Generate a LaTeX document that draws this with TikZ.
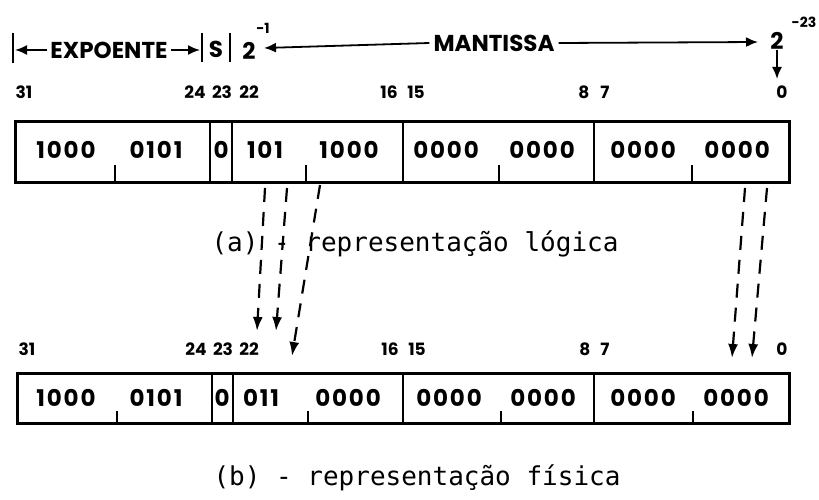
\documentclass[tikz,border=0pt]{standalone}
\usepackage{fontspec}
\setmainfont{Poppins}
\newfontfamily\bitfont[LetterSpace=8]{Poppins}
\newfontfamily\capfont{DejaVu Sans Mono}
\usetikzlibrary{arrows.meta}

\begin{document}
\begin{tikzpicture}[x=1pt,y=-1pt,
  frame/.style={draw, line width=3pt, inner sep=0pt},
  divider/.style={line width=1.8pt},
  tick/.style={line width=1.6pt},
  bar/.style={line width=2.2pt},
  bits/.style={inner sep=0pt, font=\bitfont\bfseries\fontsize{23}{23}\selectfont},
  bitno/.style={inner sep=0pt, font=\bfseries\fontsize{17}{17}\selectfont},
  hdr/.style={inner sep=0pt, font=\bfseries\fontsize{23}{23}\selectfont},
  powtext/.style={inner sep=0pt, font=\bfseries\fontsize{14}{14}\selectfont},
  captext/.style={inner sep=0pt, font=\capfont\fontsize{26}{26}\selectfont},
  harrow/.style={line width=1.8pt, -{Latex[length=12pt,width=10pt]}},
  darrow/.style={line width=2.2pt, dash pattern=on 14pt off 10pt,
                 -{Latex[length=14pt,width=10pt]}}]
\useasboundingbox (0,0) rectangle (819,500);

% ---------- header: field widths and weights ----------
\draw[bar] (13,33) -- (13,63);
\draw[bar] (202,33) -- (202,62);
\draw[bar] (230,33) -- (230,62);
\coordinate (expL) at (15,50);
\coordinate (expR) at (200,50);
\node[hdr] (expo) at (109,50) {EXPOENTE};
\draw[harrow] ([xshift=-3pt]expo.west) -- (expL);
\draw[harrow] ([xshift=3pt]expo.east) -- (expR);
\node[hdr] (sign) at (216,49) {S};
\node[hdr] (twoL) at (249,51) {2};
\node[powtext] (expoL) at (263,28) {-1};

\node[hdr] (mant) at (494,43) {MANTISSA};
\coordinate (mantL) at (264,48);
\coordinate (mantR) at (758,42);
\draw[harrow] ([xshift=-4pt]mant.west) -- (mantL);
\draw[harrow] ([xshift=4pt]mant.east) -- (mantR);
\node[hdr] (twoR) at (777,41) {2};
\node[powtext] (expoR) at (804,22) {-23};
\coordinate (zeroTip) at (777,79);
\draw[harrow] (twoR.south) -- (zeroTip);

% ---------- (a) logical representation ----------
\foreach \t/\x in {31/24, 24/195, 23/222, 22/249, 16/389, 15/416, 8/584, 7/605, 0/782}
  \node[bitno] (ta\t) at (\x,92) {\t};

\node[frame, minimum width=774pt, minimum height=60pt] (ra) at (402,152) {};
\foreach \x in {210,232,403,594} \draw[divider] (\x,122) -- (\x,182);
\foreach \x in {115,306,499,692} \draw[tick] (\x,165) -- (\x,182);

\node[bits] (a1) at (66,150)  {1000};
\node[bits] (a2) at (156,150) {0101};
\node[bits] (as) at (221,150) {0};
\node[bits] (a3) at (265,150) {101};
\node[bits] (a4) at (349,150) {1000};
\node[bits] (a5) at (446,150) {0000};
\node[bits] (a6) at (542,150) {0000};
\node[bits] (a7) at (643,150) {0000};
\node[bits] (a8) at (737,150) {0000};

\node[captext] (capa) at (415,244) {(a) - representação lógica};

% ---------- (b) physical representation ----------
\foreach \t/\x in {31/27, 24/196, 23/223, 22/249, 16/390, 15/417, 8/585, 7/605, 0/782}
  \node[bitno] (tb\t) at (\x,349) {\t};

\node[frame, minimum width=772pt, minimum height=50pt] (rb) at (403,398) {};
\foreach \x in {212,233,403,594} \draw[divider] (\x,373) -- (\x,423);
\foreach \x in {117,308,501,693} \draw[tick] (\x,411) -- (\x,423);

\node[bits] (b1) at (66,398)  {1000};
\node[bits] (b2) at (156,398) {0101};
\node[bits] (bs) at (222,398) {0};
\node[bits] (b3) at (261,398) {011};
\node[bits] (b4) at (348,398) {0000};
\node[bits] (b5) at (449,398) {0000};
\node[bits] (b6) at (543,398) {0000};
\node[bits] (b7) at (643,398) {0000};
\node[bits] (b8) at (736,398) {0000};

\node[captext] (capb) at (417,478) {(b) - representação física};

% ---------- bit movement from (a) to (b) ----------
\coordinate (s1) at (265,188); \coordinate (e1) at (257,331);
\coordinate (s2) at (287,188); \coordinate (e2) at (276,331);
\coordinate (s3) at (320,185); \coordinate (e3) at (292,356);
\coordinate (s4) at (745,188); \coordinate (e4) at (732,358);
\coordinate (s5) at (767,188); \coordinate (e5) at (752,358);
\foreach \i in {1,...,5} \draw[darrow] (s\i) -- (e\i);
\end{tikzpicture}
\end{document}
